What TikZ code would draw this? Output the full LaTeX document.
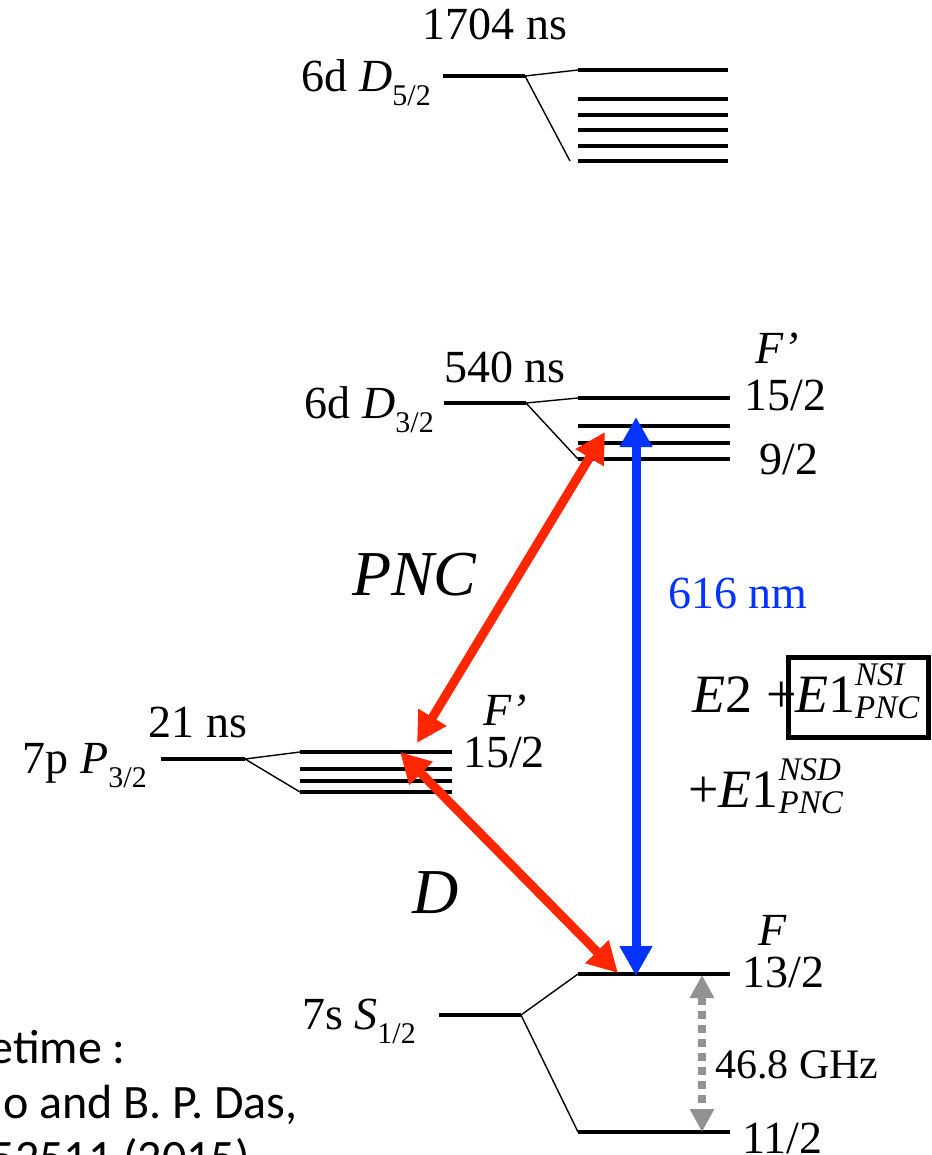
\documentclass[tikz,border=0pt]{standalone}
\usepackage{fontspec}
\setmainfont{Liberation Serif}
\newfontfamily\calibri{Carlito}
\usepackage{amsmath}
\usetikzlibrary{arrows.meta}
\definecolor{pncred}{HTML}{FF2600}
\definecolor{lsblue}{HTML}{0433FF}
\definecolor{hfgray}{HTML}{929292}
\newcommand\lsub[1]{\raisebox{-14pt}{\fontsize{30}{32}\selectfont#1}}
\newcommand\pscr[1]{\text{\fontsize{33}{35}\selectfont\itshape#1}}

\begin{document}
\begin{tikzpicture}[x=1pt,y=-1pt,>={Triangle[length=30pt,width=31pt]},
  lvl/.style={line width=4.5pt},
  spl/.style={line width=1.4pt},
  lbl/.style={inner sep=0pt,font=\fontsize{46}{50}\selectfont},
  big/.style={inner sep=0pt,font=\fontsize{64}{70}\selectfont\itshape},
  eq/.style={inner sep=0pt,font=\fontsize{54}{58}\selectfont},
  ref/.style={inner sep=0pt,font=\calibri\fontsize{48}{50}\selectfont},
  tr/.style={<->,line width=9pt}]
\clip (0,0) rectangle (931,1155);
\draw[lvl] (443,76) -- (525,76) coordinate (d5);
\foreach \y in {70,99,115,130,146,161} \draw[lvl] (578,\y) coordinate (d5s\y) -- (728,\y);
\draw[spl] (d5) -- (d5s70) (d5) -- ([xshift=-8pt]d5s161);
\node[lbl,anchor=base] (l1) at (495,40) {1704 ns};
\node[lbl,anchor=base east] (n1) at (431,92) {6d \textit{D}\lsub{5/2}};

\draw[lvl] (444,403) -- (526,403) coordinate (d3);
\foreach \y in {398,426,443,459} \draw[lvl] (578,\y) coordinate (d3s\y) -- (730,\y);
\draw[spl] (d3) -- (d3s398) (d3) -- (d3s459);
\node[lbl,anchor=base] (l2) at (505,382) {540 ns};
\node[lbl,anchor=base east] (n2) at (434,418) {6d \textit{D}\lsub{3/2}};
\node[lbl,anchor=base west] (f1) at (755,363) {\textit{F’}};
\node[lbl,anchor=base west] (h1) at (744,410) {15/2};
\node[lbl,anchor=base west] (h2) at (759,474) {9/2};

\draw[lvl] (161,759) -- (245,759) coordinate (p3);
\foreach \y in {752,769,781,792} \draw[lvl] (300,\y) coordinate (p3s\y) -- (452,\y);
\draw[spl] (p3) -- (p3s752) (p3) -- (p3s792);
\node[lbl,anchor=base] (l3) at (198,737) {21 ns};
\node[lbl,anchor=base east] (n3) at (147,773) {7p \textit{P}\lsub{3/2}};
\node[lbl,anchor=base west] (f2) at (483,725) {\textit{F’}};
\node[lbl,anchor=base west] (h3) at (463,767) {15/2};

\draw[lvl] (439,1015) -- (521,1015) coordinate (s1);
\draw[lvl] (578,974) coordinate (s1a) -- (730,974);
\draw[lvl] (578,1132) coordinate (s1b) -- (730,1132);
\draw[spl] (s1) -- (s1a) (s1) -- (s1b);
\node[lbl,anchor=base east] (n4) at (416,1029) {7s \textit{S}\lsub{1/2}};
\node[lbl,anchor=base west] (f3) at (758,945) {\textit{F}};
\node[lbl,anchor=base west] (h4) at (742,987) {13/2};
\node[lbl,anchor=base west] (h5) at (742,1153) {11/2};
\node[lbl,anchor=base west,font=\fontsize{42}{46}\selectfont] (hf) at (715,1078) {46.8 GHz};

\coordinate (bU) at (636,417); \coordinate (bD) at (636,976);
\coordinate (rA) at (605,432); \coordinate (rB) at (417,743);
\coordinate (rC) at (400,752); \coordinate (rD) at (618,973);
\coordinate (gU) at (702,975); \coordinate (gD) at (702,1132);
\draw[tr,lsblue] (bU) -- (bD);
\draw[tr,pncred] (rA) -- (rB);
\draw[tr,pncred] (rC) -- (rD);
\draw[<->,hfgray,line width=8pt,dash pattern=on 8pt off 6pt,>={Triangle[length=23pt,width=23pt]}] (gU) -- (gD);

\node[big,anchor=base west] (pnc) at (352,595) {PNC};
\node[big,anchor=base west] (dd) at (412,913) {D};
\node[lbl,anchor=base west,text=lsblue] (wl) at (668,608) {616 nm};

\node[draw,line width=5pt,minimum width=140pt,minimum height=80pt] (nsi) at (858,697) {};
\node[eq,anchor=base west] (e1) at (795,712) {$\text{\itshape E}\text{1}^{\pscr{NSI}}_{\pscr{PNC}}$};
\node[eq,anchor=base east] (e2) at (797,712) {\textit{E}2 +};
\node[eq,anchor=base west] (nsd) at (688,807) {$\text{+\itshape E}\text{1}^{\pscr{NSD}}_{\pscr{PNC}}$};

\node[ref,anchor=base east] (r1) at (126,1063) {etime :};
\node[ref,anchor=base east] (r2) at (298,1118) {o and B. P. Das,};
\node[ref,anchor=base east] (r3) at (250,1173) {52511 (2015)};
\end{tikzpicture}
\end{document}
